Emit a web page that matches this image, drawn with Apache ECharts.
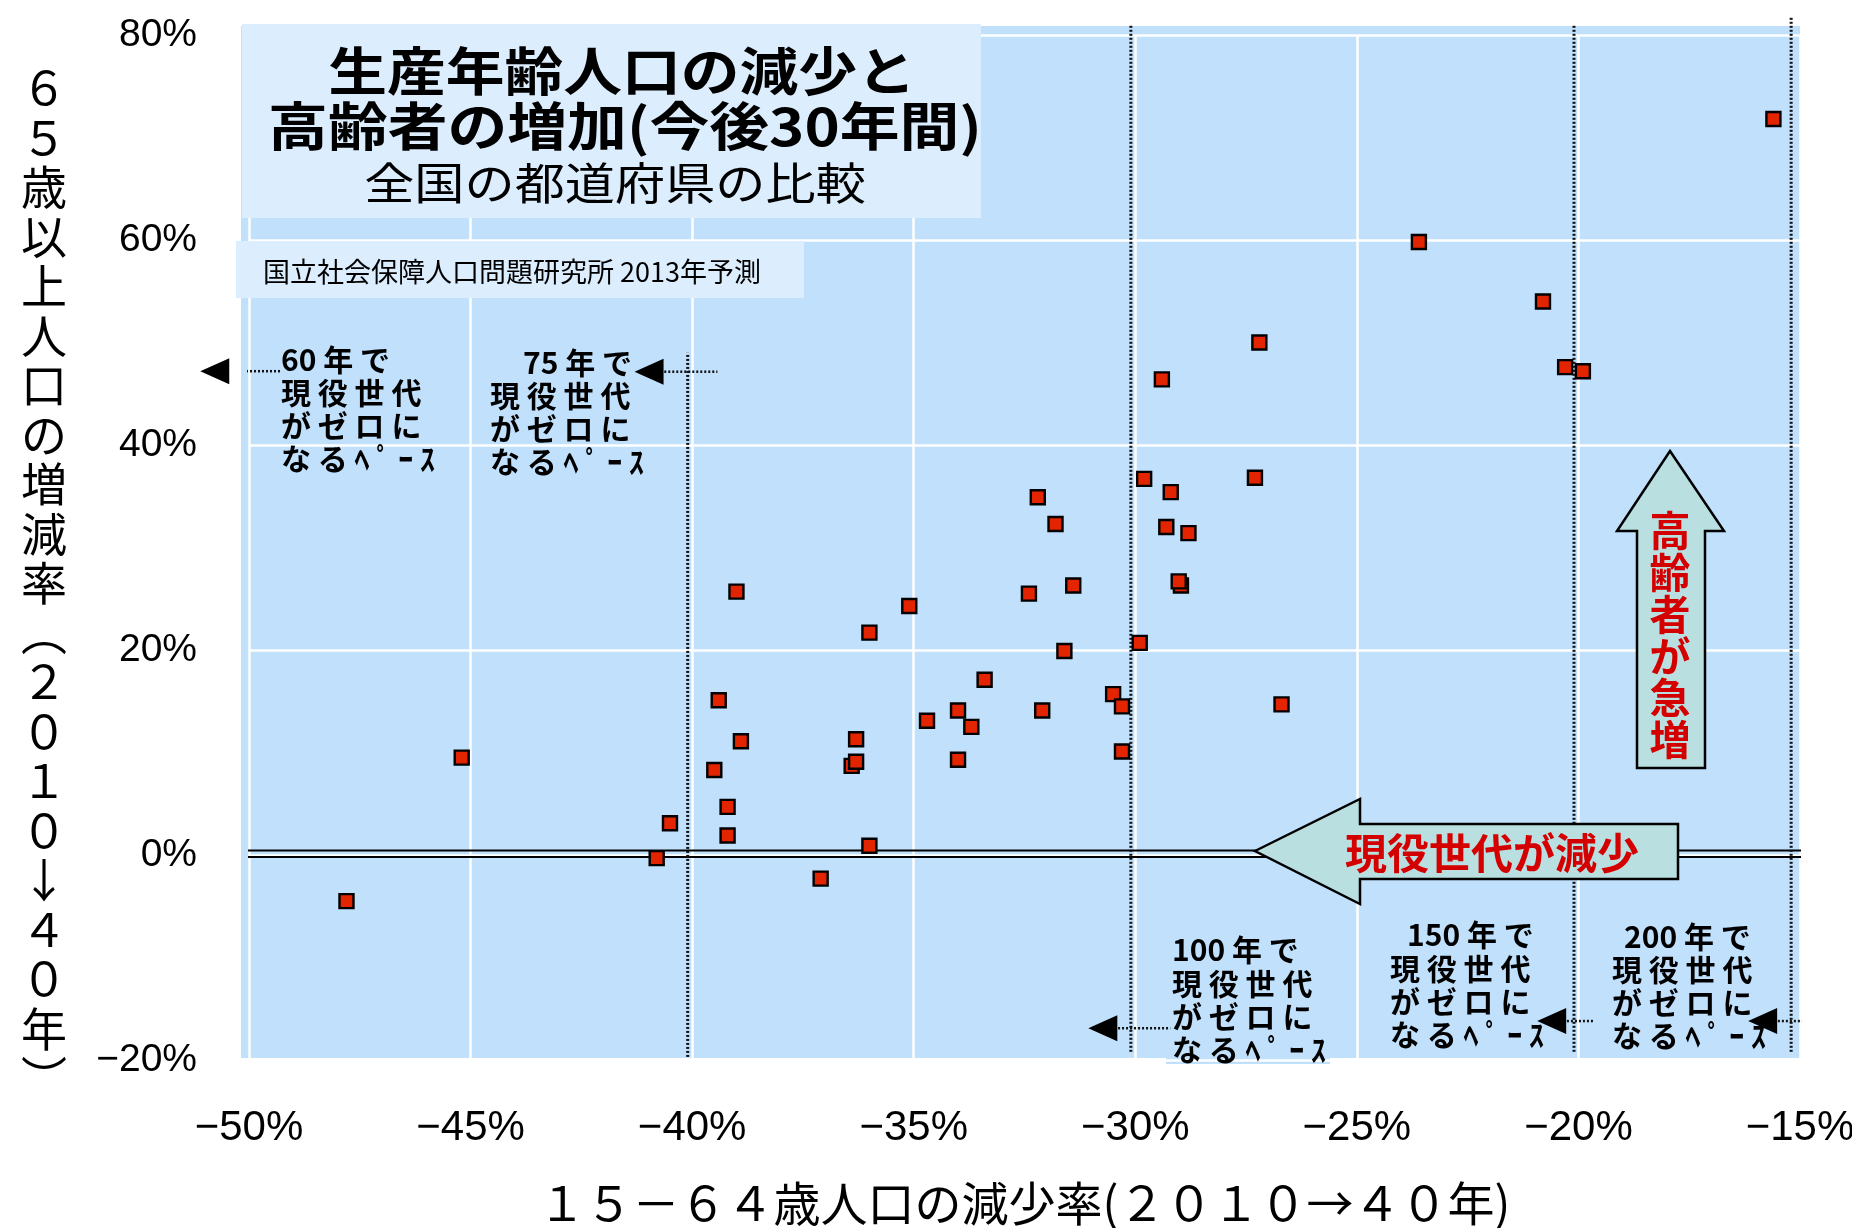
<!DOCTYPE html>
<html><head><meta charset="utf-8">
<script src="https://cdn.jsdelivr.net/npm/echarts@6/dist/echarts.min.js"></script>
<style>html,body{margin:0;padding:0;background:#fff}#c{width:1852px;height:1228px}</style>
</head><body><div id="c"></div>
<script>
// 15-64歳人口の減少率 (%), 2010→40
const workingAgeChange = [-47.8,-45.2,-40.8,-40.5,-39.5,-39.4,-39.2,-39.2,-39.0,-38.9,
  -37.1,-36.4,-36.3,-36.3,-36.0,-36.0,-35.1,-34.7,-34.0,-34.0,
  -33.7,-33.4,-32.4,-32.2,-32.1,-31.8,-31.6,-31.4,-30.5,-30.3,
  -30.3,-29.9,-29.8,-29.4,-29.3,-29.2,-28.97,-29.02,-28.8,-27.3,
  -27.2,-26.7,-23.6,-20.8,-20.3,-19.9,-15.6];
// 65歳以上人口の増減率 (%), 2010→40
const elderlyChange = [-4.5,9.5,-0.3,3.1,8.3,15.1,4.7,1.9,25.7,11.1,
  -2.3,8.7,9.1,11.3,21.7,0.9,24.3,13.1,14.1,9.3,
  12.5,17.1,25.5,34.9,14.1,32.3,19.9,26.3,15.7,14.5,
  10.1,20.7,36.7,46.4,32.0,35.4,26.3,26.7,31.4,36.8,
  50.0,14.7,59.8,54.0,47.6,47.2,71.8];

const xAxisRange = [-50, -15, 5];
const yAxisRange = [-20, 80, 20];

// "pace" reference lines (years until working population reaches zero)
const paceYears = ['60','75','100','150','200'];
const paceLineX = [-50.1, -40.1, -30.1, -20.1, -15.2];
const paceLineTop = [50, 49, 80.9, 80.9, 81.7];
const paceLineBottom = [-19.2, -19.7, -19.2, -19.2, -19.2];
const paceArrowTipX = [-51.1, -41.3, -31.06, -20.93, -16.17];
const paceArrowEndX = [-49.3, -39.43, -29.21, -19.67, -14.34];
const paceArrowY = [47.2, 47.15, -16.9, -16.2, -16.2];

const fmt = v => (v < 0 ? '\u2212' : '') + Math.abs(v) + '%';
const chart = echarts.init(document.getElementById('c'));

const series = [];
series.push({type:'line', data:[[-50.3,0.45],[-14.97,0.45]], symbol:'none', clip:false, silent:true,
  lineStyle:{color:'#000', width:2}, z:3});
series.push({type:'line', data:[[-50.2,-0.2],[-14.97,-0.2]], symbol:'none', clip:false, silent:true,
  lineStyle:{color:'#000', width:2}, z:3});
paceLineX.forEach((x,i)=>{
  series.push({type:'line', data:[[x,paceLineBottom[i]],[x,paceLineTop[i]]], symbol:'none', clip:false, silent:true,
    lineStyle:{color:'#111', width:3, type:[2,2]}, z:3});
  series.push({type:'line', data:[[paceArrowTipX[i]+0.4,paceArrowY[i]],[paceArrowEndX[i],paceArrowY[i]]], symbol:'none', clip:false, silent:true,
    lineStyle:{color:'#111', width:2.5, type:[2,2]}, z:3});
});
series.push({type:'scatter', data: workingAgeChange.map((x,i)=>[x, elderlyChange[i]]),
  symbol:'rect', symbolSize:14,
  itemStyle:{color:'#e32400', borderColor:'#000', borderWidth:2.4, opacity:1}, z:10});

chart.setOption({
  animation:false,
  backgroundColor:'#fff',
  grid:{left:249, right:52, top:35, bottom:168, containLabel:false, outerBoundsMode:'none'},
  xAxis:{type:'value', min:xAxisRange[0], max:xAxisRange[1], interval:xAxisRange[2],
    name:'１５－６４歳人口の減少率(２０１０→４０年)', nameLocation:'middle', nameGap:120,
    nameTextStyle:{fontFamily:'"Noto Sans CJK JP"', fontSize:47, color:'#000'},
    axisLine:{show:false}, axisTick:{show:false},
    axisLabel:{margin:47, fontSize:42, fontFamily:'"Liberation Sans Narrow", "Liberation Sans", sans-serif', color:'#000', formatter:fmt},
    splitLine:{show:true, lineStyle:{color:'#fff', width:2.5}}},
  yAxis:{type:'value', min:yAxisRange[0], max:yAxisRange[1], interval:yAxisRange[2],
    axisLine:{show:false}, axisTick:{show:false},
    axisLabel:{margin:52, fontSize:39, fontFamily:'"Liberation Sans", sans-serif', color:'#000', formatter:fmt},
    splitLine:{show:true, lineStyle:{color:'#fff', width:2.5}}},
  series
});

const px = (x,y) => chart.convertToPixel({gridIndex:0}, [x,y]);
const els = [];
const pL = px(-50,80), pR = px(-15,-20);
els.push({type:'rect', z:-10, shape:{x:pL[0]-8, y:pL[1]-9, width:pR[0]-pL[0]+8, height:pR[1]-pL[1]+7}, style:{fill:'#c0e0fc'}});
// bg under "100年" block last line
els.push({type:'rect', z:-9, shape:{x:1166, y:1036, width:164, height:28}, style:{fill:'#c0e0fc'}});

// title boxes
els.push({type:'rect', z:20, shape:{x:242, y:24, width:739, height:194}, style:{fill:'#dcedfd'}});
const cjk = '"Noto Sans CJK JP"';
const addText = (t, x, y, font, opts={}) => els.push(Object.assign({type:'text', z:21, x, y,
  style:Object.assign({text:t, font, fill:'#000', textAlign:'left', textVerticalAlign:'middle'}, opts.style||{})}, opts.el||{}));
addText('生産年齢人口の減少と', 622, 71, 'bold 52px '+cjk, {style:{textAlign:'center'}, el:{scaleX:1.13}});
addText('高齢者の増加(今後30年間)', 625, 126, 'bold 52px '+cjk, {style:{textAlign:'center'}, el:{scaleX:1.15}});
addText('全国の都道府県の比較', 615, 183, '44px '+cjk, {style:{textAlign:'center'}, el:{scaleX:1.14}});
els.push({type:'rect', z:20, shape:{x:236, y:241, width:568, height:57}, style:{fill:'#dcedfd'}});
addText('国立社会保障人口問題研究所 2013年予測', 263, 272, '27px '+cjk);

// pace text blocks
const paceBlocks = [
  {first:281, left:281, y0:360, pitch:32.7},
  {first:523, left:490, y0:363, pitch:32.7},
  {first:1172, left:1172, y0:950, pitch:33.3},
  {first:1407, left:1390, y0:935, pitch:33.3},
  {first:1624, left:1612, y0:937, pitch:33}
];
paceYears.forEach((yr,i)=>{
  const b = paceBlocks[i];
  const lines = [yr+' 年 で', '現 役 世 代', 'が ゼ ロ に', 'な る ﾍ ﾟ ｰ ｽ'];
  lines.forEach((t,k)=>addText(t, k===0?b.first:b.left, b.y0+k*b.pitch, 'bold 30px '+cjk, {el:{z:6}}));
  const tip = px(paceArrowTipX[i], paceArrowY[i]);
  els.push({type:'polygon', z:7, shape:{points:[[tip[0],tip[1]],[tip[0]+29,tip[1]-13],[tip[0]+29,tip[1]+13]]}, style:{fill:'#000'}});
});

// big arrows
els.push({type:'polygon', z:8, shape:{points:[[1670,451],[1724,531],[1705,531],[1705,768],[1637,768],[1637,531],[1617,531]]},
  style:{fill:'#b9dfe1', stroke:'#000', lineWidth:2.5}});
addText('高\n齢\n者\nが\n急\n増', 1670, 510, 'bold 41px '+cjk, {style:{textAlign:'center', textVerticalAlign:'top', lineHeight:41.7, fill:'#d40000'}, el:{z:9}});
els.push({type:'polygon', z:8, shape:{points:[[1255,851],[1360,799],[1360,824],[1678,824],[1678,879],[1360,879],[1360,904]]},
  style:{fill:'#b9dfe1', stroke:'#000', lineWidth:2.5}});
addText('現役世代が減少', 1492, 853, 'bold 42px '+cjk, {style:{textAlign:'center', fill:'#d40000'}, el:{z:9}});

// y axis title (vertical)
addText('６\n５\n歳\n以\n上\n人\n口\nの\n増\n減\n率\n︵\n２\n０\n１\n０\n↓\n４\n０\n年\n︶', 44, 63, '46px '+cjk,
  {style:{textAlign:'center', textVerticalAlign:'top', lineHeight:49.5}});

chart.setOption({graphic:{elements:els}});
</script></body></html>
